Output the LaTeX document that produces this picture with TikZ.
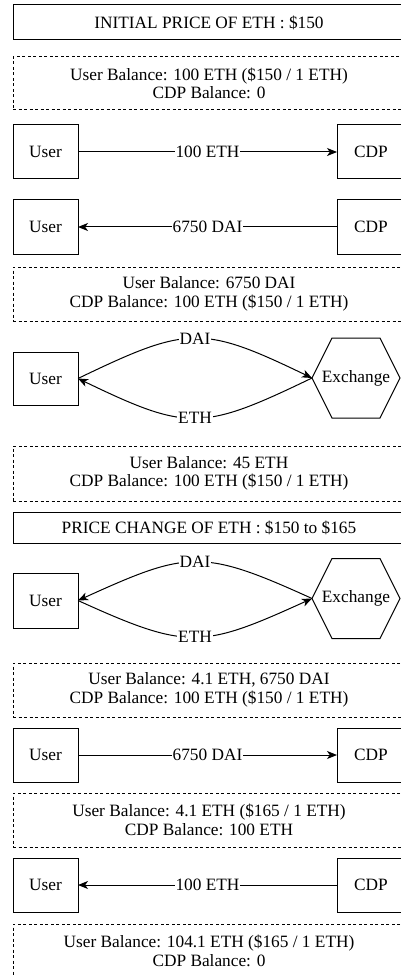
\documentclass[tikz,border=0pt]{standalone}
\usepackage{fontspec}
\setmainfont{Liberation Serif}
\usetikzlibrary{arrows.meta}
\begin{document}
\begin{tikzpicture}[x=1pt,y=-1pt,line width=1pt,
  every node/.style={font=\fontsize{17.3}{18.5}\selectfont, inner sep=0pt, outer sep=0pt, align=center},
  box/.style={draw, minimum width=65pt, minimum height=54pt},
  cdpbox/.style={draw, minimum width=68pt, minimum height=54pt},
  wide/.style={draw, minimum width=392pt, minimum height=54pt},
  dashedbox/.style={wide, dash pattern=on 3pt off 2.5pt},
  hexn/.style={minimum width=88pt, minimum height=80pt},
  lbl/.style={fill=white, inner sep=1pt},
  arr/.style={-{Stealth[length=10pt,width=8pt,inset=2.8pt]}}
]
\clip (0,0) rectangle (401,976);
\fill[white] (0,0) rectangle (401,976);

% titles and balances
\node[wide, minimum height=35pt] (t1) at (209,22.5) {INITIAL PRICE OF ETH : \$150};
\node[dashedbox, minimum height=53pt] (b1) at (209,83.5) {User Balance: 100 ETH (\$150 / 1 ETH)\\CDP Balance: 0};

% row 1
\node[box] (u1) at (45.5,152) {User};
\node[cdpbox] (c1) at (371,152) {CDP};
\draw[arr] (u1) -- (c1) node[lbl,midway] {100 ETH};

% row 2
\node[box] (u2) at (45.5,227) {User};
\node[cdpbox] (c2) at (371,227) {CDP};
\draw[arr] (c2) -- (u2) node[lbl,midway] {6750 DAI};

\node[dashedbox] (b2) at (209,294) {User Balance: 6750 DAI\\CDP Balance: 100 ETH (\$150 / 1 ETH)};

% row 3
\node[box, minimum height=53pt] (u3) at (45.5,378.5) {User};
\node[hexn] (x3) at (356,378) {Exchange};
\draw (x3.west) -- ([xshift=20pt]x3.north west) -- ([xshift=-20pt]x3.north east) -- (x3.east)
  -- ([xshift=-20pt]x3.south east) -- ([xshift=20pt]x3.south west) -- cycle;
\draw[arr] (u3.east) .. controls +(110,-53) and +(-110,-53) .. (x3.west) node[lbl,midway] {DAI};
\draw[arr] (x3.west) .. controls +(-110,53) and +(110,53) .. (u3.east) node[lbl,midway] {ETH};

\node[dashedbox, minimum height=55pt] (b3) at (209,473.5) {User Balance: 45 ETH\\CDP Balance: 100 ETH (\$150 / 1 ETH)};

\node[wide, minimum height=31pt] (t2) at (209,527.5) {PRICE CHANGE OF ETH : \$150 to \$165};

% row 4
\node[box, minimum height=55pt] (u4) at (45.5,600.5) {User};
\node[hexn] (x4) at (356,598.5) {Exchange};
\draw (x4.west) -- ([xshift=20pt]x4.north west) -- ([xshift=-20pt]x4.north east) -- (x4.east)
  -- ([xshift=-20pt]x4.south east) -- ([xshift=20pt]x4.south west) -- cycle;
\draw[arr] (x4.west) .. controls +(-110,-50) and +(110,-50) .. (u4.east) node[lbl,midway] {DAI};
\draw[arr] (u4.east) .. controls +(110,50) and +(-110,50) .. (x4.west) node[lbl,midway] {ETH};

\node[dashedbox] (b4) at (209,690) {User Balance: 4.1 ETH, 6750 DAI\\CDP Balance: 100 ETH (\$150 / 1 ETH)};

% row 5
\node[box] (u5) at (45.5,755) {User};
\node[cdpbox] (c5) at (371,755) {CDP};
\draw[arr] (u5) -- (c5) node[lbl,midway] {6750 DAI};

\node[dashedbox] (b5) at (209,820) {User Balance: 4.1 ETH (\$165 / 1 ETH)\\CDP Balance: 100 ETH};

% row 6
\node[box] (u6) at (45.5,885) {User};
\node[cdpbox] (c6) at (371,885) {CDP};
\draw[arr] (c6) -- (u6) node[lbl,midway] {100 ETH};

\node[dashedbox] (b6) at (209,951) {User Balance: 104.1 ETH (\$165 / 1 ETH)\\CDP Balance: 0};
\end{tikzpicture}
\end{document}
